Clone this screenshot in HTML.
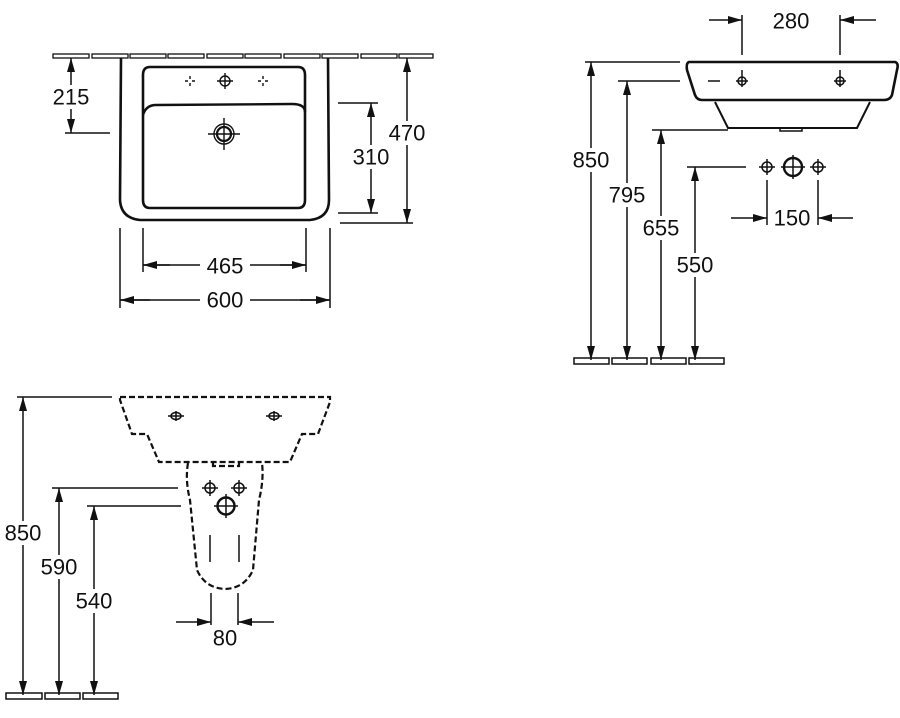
<!DOCTYPE html>
<html><head><meta charset="utf-8"><style>
html,body{margin:0;padding:0;background:#fff}
svg{display:block}
text{font-family:"Liberation Sans",sans-serif;font-size:22px;fill:#111;text-anchor:middle;dominant-baseline:central}
</style></head><body>
<svg width="900" height="718" viewBox="0 0 900 718" xmlns="http://www.w3.org/2000/svg">
<defs>
<marker id="a" viewBox="0 0 14 8" refX="14" refY="4" markerWidth="14" markerHeight="8" orient="auto-start-reverse" markerUnits="userSpaceOnUse"><path d="M0,0L14,4L0,8z" fill="#111"/></marker>
</defs>
<g stroke="#111" fill="none" stroke-width="1.5">
<g stroke-width="1.3">
<rect x="53" y="54" width="36" height="4"/><rect x="92" y="54" width="36" height="4"/><rect x="130" y="54" width="36" height="4"/><rect x="168" y="54" width="36" height="4"/><rect x="207" y="54" width="36" height="4"/><rect x="245" y="54" width="36" height="4"/><rect x="284" y="54" width="36" height="4"/><rect x="322" y="54" width="36" height="4"/><rect x="361" y="54" width="36" height="4"/><rect x="399" y="54" width="34" height="4"/>
</g>
<path d="M121,58 L120,200 Q121,218 140,220 L310,220 Q329,218 329,200 L328,58" stroke-width="2.6"/>
<path d="M150,67 L298,67 Q305,67 305,75 L305,200 Q305,208 298,208 L150,208 Q143,208 143,200 L143,75 Q143,67 150,67Z" stroke-width="2.6"/>
<path d="M143,115 Q146,105 156,105 L292,104 Q305,104 305,112" stroke-width="2.4"/>
<g stroke-width="1.4">
<circle cx="225" cy="81" r="5"/><path d="M217,81h16M225,73v16"/>
<path d="M190,76v3M190,83v3M185,81h3M192,81h3M263,76v3M263,83v3M258,81h3M265,81h3"/>
<circle cx="224" cy="134" r="7" stroke-width="2.2"/><circle cx="224" cy="134" r="10"/><path d="M208,134h32M224,118v32"/>
</g>
<path d="M71,58V133" marker-start="url(#a)" marker-end="url(#a)"/>
<path d="M65,133H110"/>
<path d="M371,103V213" marker-start="url(#a)" marker-end="url(#a)"/>
<path d="M338,103H378M338,213H378"/>
<path d="M407,58V223" marker-start="url(#a)" marker-end="url(#a)"/>
<path d="M340,223H413"/>
<path d="M143,228V272M306,228V272M120,228V308M330,228V308"/>
<path d="M143,265H200M250,265H306" />
<path d="M143,265H170" marker-start="url(#a)"/><path d="M280,265H306" marker-end="url(#a)"/>
<path d="M120,300H200M250,300H330"/>
<path d="M120,300H150" marker-start="url(#a)"/><path d="M300,300H330" marker-end="url(#a)"/>

<path d="M689,62 L895,62 Q899,63 897,70 L892,95 Q890,100 884,100 L702,100 Q697,100 695,95 L687,70 Q686,63 689,62Z" stroke-width="2.6"/>
<path d="M715,102 L728,128 L857,128 L870,102" stroke-width="2"/>
<path d="M780,128v3h22v-3"/>
<path d="M708,81h12"/>
<circle cx="742" cy="81" r="4"/><path d="M736,81h12M742,70v17"/>
<circle cx="840" cy="81" r="4"/><path d="M834,81h12M840,70v17"/>
<path d="M742,15V55M840,15V55"/>
<path d="M709,20H742" marker-end="url(#a)"/><path d="M876,20H840" marker-end="url(#a)"/>
<path d="M591,62V360" marker-start="url(#a)" marker-end="url(#a)"/><path d="M585,62H680"/>
<path d="M627,81V360" marker-start="url(#a)" marker-end="url(#a)"/><path d="M618,81H680"/>
<path d="M661,130V360" marker-start="url(#a)" marker-end="url(#a)"/><path d="M652,130H728"/>
<path d="M695,167V360" marker-start="url(#a)" marker-end="url(#a)"/><path d="M687,167H746"/>
<rect x="574" y="358" width="35" height="6"/><rect x="612" y="358" width="35" height="6"/><rect x="651" y="358" width="35" height="6"/><rect x="689" y="358" width="35" height="6"/>
<circle cx="767" cy="167" r="5"/><path d="M759,167h16M767,159v16"/>
<circle cx="793" cy="167" r="9" stroke-width="2.4"/><path d="M781,167h24M793,155v24"/>
<circle cx="818" cy="167" r="5"/><path d="M810,167h16M818,159v16"/>
<path d="M767,180V225M818,180V225"/>
<path d="M731,218H767" marker-end="url(#a)"/><path d="M853,218H818" marker-end="url(#a)"/>

<g stroke-dasharray="6,3" stroke-width="2.2">
<path d="M120,397 L330,397 L330,402 L318,434 L302,434 L290,462 L159,462 L147,434 L132,434 L120,400Z"/>
<path d="M188,463 Q185,480 190,500 L197,570 Q205,588 225,589 Q245,588 253,570 L259,500 Q264,480 262,463"/>
<path d="M213,463v3h26v-3"/>
</g>
<ellipse cx="176" cy="416" rx="5" ry="3.5"/><path d="M168,416h16M176,411v10"/>
<ellipse cx="274" cy="416" rx="5" ry="3.5"/><path d="M266,416h16M274,411v10"/>
<circle cx="210" cy="488" r="5"/><path d="M202,488h16M210,480v16"/>
<circle cx="239" cy="488" r="5"/><path d="M231,488h16M239,480v16"/>
<circle cx="226" cy="506" r="8.5" stroke-width="2.4"/><path d="M214,506h24M226,494v24"/>
<path d="M210,535V562M239,535V562"/>
<path d="M211,593V625M238,593V625"/>
<path d="M176,622H211" marker-end="url(#a)"/><path d="M274,622H238" marker-end="url(#a)"/>
<path d="M23,397V695" marker-start="url(#a)" marker-end="url(#a)"/><path d="M17,397H112"/>
<path d="M59,488V695" marker-start="url(#a)" marker-end="url(#a)"/><path d="M52,488H178"/>
<path d="M94,506V695" marker-start="url(#a)" marker-end="url(#a)"/><path d="M87,506H181"/>
<rect x="6" y="693" width="36" height="6"/><rect x="45" y="693" width="35" height="6"/><rect x="83" y="693" width="35" height="6"/>
</g>
<g>
<rect x="50" y="85" width="42" height="24" fill="#fff"/><text x="71" y="97">215</text>
<rect x="350" y="145" width="42" height="24" fill="#fff"/><text x="371" y="157">310</text>
<rect x="386" y="121" width="42" height="24" fill="#fff"/><text x="407" y="133">470</text>
<rect x="200" y="254" width="50" height="24" fill="#fff"/><text x="225" y="266">465</text>
<rect x="200" y="288" width="50" height="24" fill="#fff"/><text x="225" y="300">600</text>
<text x="791" y="21">280</text>
<rect x="569" y="148" width="44" height="24" fill="#fff"/><text x="591" y="160">850</text>
<rect x="605" y="183" width="44" height="24" fill="#fff"/><text x="627" y="195">795</text>
<rect x="639" y="216" width="44" height="24" fill="#fff"/><text x="661" y="228">655</text>
<rect x="673" y="253" width="44" height="24" fill="#fff"/><text x="695" y="265">550</text>
<text x="792" y="218">150</text>
<rect x="2" y="521" width="44" height="24" fill="#fff"/><text x="23" y="533">850</text>
<rect x="37" y="555" width="44" height="24" fill="#fff"/><text x="59" y="567">590</text>
<rect x="72" y="589" width="44" height="24" fill="#fff"/><text x="94" y="601">540</text>
<text x="225" y="638">80</text>
</g>
</svg>
</body></html>
